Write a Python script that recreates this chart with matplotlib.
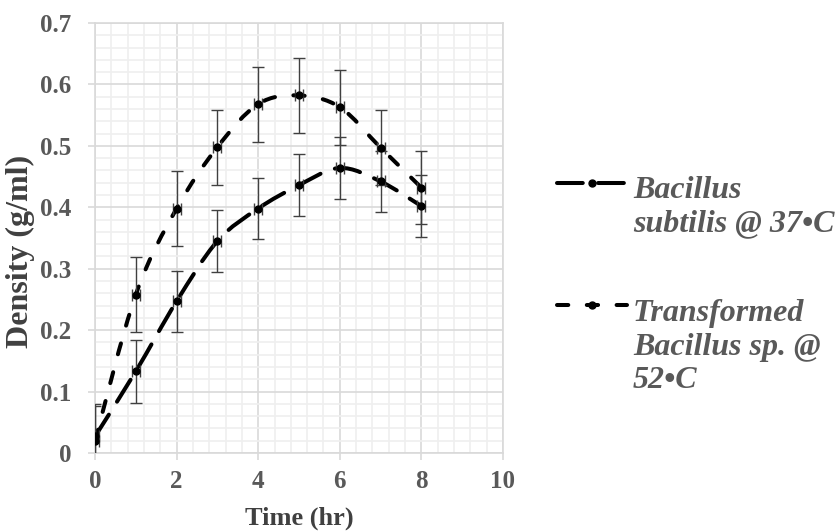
import matplotlib.pyplot as plt
import numpy as np
from matplotlib.path import Path
from matplotlib.patches import PathPatch
from matplotlib.lines import Line2D
from matplotlib.ticker import MultipleLocator

plt.rcParams['font.family'] = ['Liberation Serif', 'DejaVu Serif']

time_hr = [0, 1, 2, 3, 4, 5, 6, 7, 8]
subtilis = [0.027, 0.133, 0.247, 0.345, 0.398, 0.436, 0.464, 0.442, 0.402]
subtilis_err = [0.05, 0.051, 0.05, 0.05, 0.05, 0.05, 0.05, 0.05, 0.05]
transformed = [0.02, 0.258, 0.398, 0.498, 0.568, 0.582, 0.563, 0.497, 0.432]
transformed_err = [0.06, 0.061, 0.061, 0.061, 0.061, 0.061, 0.061, 0.061, 0.06]
time_err = 0.1

labels = ['Bacillus\nsubtilis @ 37•C', 'Transformed\nBacillus sp. @\n52•C']
gray = '#595959'


def smooth_path(x, y):
    # Excel style smoothed line: cubic bezier through the points
    p = np.column_stack([x, y]).astype(float)
    ext = np.vstack([p[0], p, p[-1]])
    verts = [p[0]]
    codes = [Path.MOVETO]
    for i in range(len(p) - 1):
        c1 = ext[i + 1] + (ext[i + 2] - ext[i]) / 6
        c2 = ext[i + 2] - (ext[i + 3] - ext[i + 1]) / 6
        verts += [c1, c2, p[i + 1]]
        codes += [Path.CURVE4] * 3
    return Path(verts, codes)


fig = plt.figure(figsize=(8.38, 5.31), dpi=100)
ax = fig.add_axes([0.1134, 0.1469, 0.4868, 0.8098])

styles = [(6.4, 3.8), (2.8, 4.6)]
for ys, es, dash in [(subtilis, subtilis_err, styles[0]), (transformed, transformed_err, styles[1])]:
    patch = PathPatch(smooth_path(time_hr, ys), fill=False, edgecolor='black',
                      linewidth=2.9, linestyle=(0, dash), capstyle='round', zorder=3)
    ax.add_patch(patch)
    ax.errorbar(time_hr, ys, yerr=es, xerr=time_err, fmt='o', color='black',
                ecolor='#404040', elinewidth=1, capsize=4.3, capthick=1,
                markersize=5, zorder=4)

ax.set_xlim(0, 10)
ax.set_ylim(0, 0.7)
ax.xaxis.set_major_locator(MultipleLocator(2))
ax.xaxis.set_minor_locator(MultipleLocator(0.4))
ax.yaxis.set_minor_locator(MultipleLocator(0.02))
ax.set_yticks(np.arange(0, 0.71, 0.1))
ax.set_yticklabels(['0', '0.1', '0.2', '0.3', '0.4', '0.5', '0.6', '0.7'])
ax.grid(which='major', color='#d9d9d9', linewidth=1.2)
ax.grid(which='minor', color='#efefef', linewidth=1.2)
ax.set_axisbelow(True)
for s in ax.spines.values():
    s.set_color('#d9d9d9')
    s.set_linewidth(1.2)
ax.tick_params(which='major', length=5, color='#d9d9d9', width=1.2,
               labelsize=18, labelcolor=gray)
ax.tick_params(axis='x', pad=7)
ax.tick_params(axis='y', pad=12)
ax.tick_params(which='minor', length=0)
for t in ax.get_xticklabels() + ax.get_yticklabels():
    t.set_fontweight('bold')

ax.set_xlabel('Time (hr)', fontsize=19, fontweight='bold', color='#404040', labelpad=10)
fig.text(20 / 838, 1 - 251 / 531, 'Density (g/ml)', rotation=90, fontsize=23,
         fontweight='bold', color='#404040', ha='center', va='center')

# legend drawn by hand so the marker sits on the first text line
W, H = 838, 531
legend_rows = [(183, 231), (305, 388)]
for k, dash in enumerate(styles):
    yf = 1 - legend_rows[k][0] / H
    fig.add_artist(Line2D([557 / W, 627 / W], [yf, yf], color='black', linewidth=2.9,
                          linestyle=(0, dash), dash_capstyle='round'))
    fig.add_artist(Line2D([592 / W], [yf], marker='o', color='black', markersize=5))
    fig.text(633 / W, 1 - legend_rows[k][1] / H, labels[k], fontsize=23,
             fontweight='bold', style='italic', color=gray, va='baseline',
             linespacing=1.2, transform=fig.transFigure)

fig.savefig('out.png', dpi=100)
